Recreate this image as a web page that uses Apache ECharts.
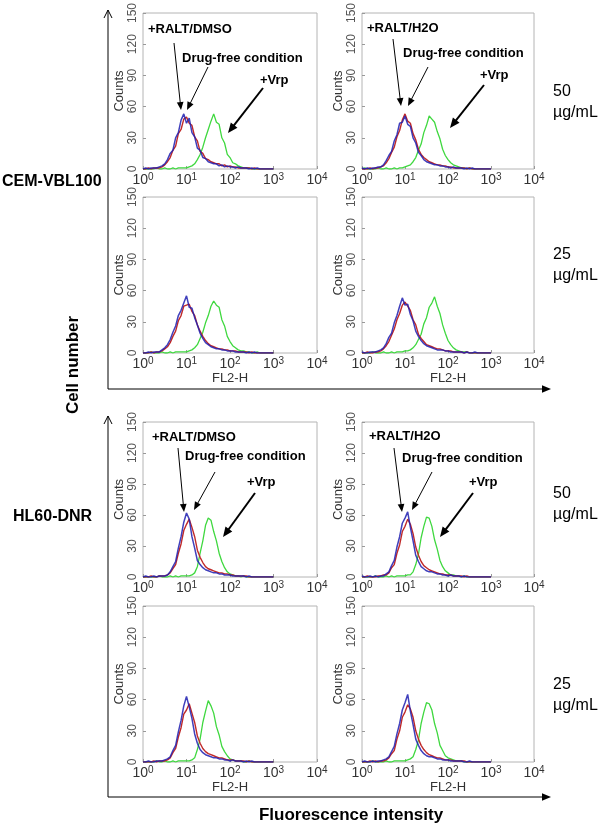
<!DOCTYPE html>
<html>
<head>
<meta charset="utf-8">
<script src="https://cdn.jsdelivr.net/npm/echarts@6/dist/echarts.min.js"></script>
<style>
html,body{margin:0;padding:0;background:#fff;}
#main{width:600px;height:825px;}
</style>
</head>
<body>
<div id="main"></div>
<script>
// FL2-H channel (1024 channels = 4 decades), counts per channel
var channels = [0,16,32,48,64,80,96,112,128,144,160,176,192,208,224,240,256,272,288,304,320,336,352,368,384,400,416,432,448,464,480,496,512,528,544,560,576,592,608,624,640,656,672,688,704,720,736,752,768];
var decades = ['0','1','2','3','4'];
var countTicks = [0,30,60,90,120,150];

// CEM-VBL100, 50 ug/mL, RALT/DMSO
var cem50DmsoRalt = [0,1,0,1,1,1,2,3,5,9, 15,18,30,35,47,53,44,49,35,31, 20,18,11,10,7,6,5,5,3,4, 2,3,2,2,1,2,1,1,1,0, 1,0,1,0,0,0,0,0,0];
var cem50DmsoFree = [0,0,1,0,1,1,1,2,4,7, 11,18,22,34,38,48,50,44,42,31, 27,17,15,10,9,7,6,5,5,3, 4,2,3,2,2,1,1,1,1,1, 0,1,0,0,0,0,0,0,0];
var cem50DmsoVrp  = [0,0,0,0,0,1,0,0,1,0, 0,1,0,1,1,1,1,2,3,5, 9,14,21,30,38,46,53,45,43,30, 25,14,11,6,5,3,2,1,1,1, 0,0,0,0,0,0,0,0,0];
// CEM-VBL100, 50 ug/mL, RALT/H2O
var cem50H2oRalt = [1,0,1,0,1,1,2,2,4,8, 13,17,27,33,44,45,51,43,41,30, 25,16,13,9,7,6,5,4,4,3, 3,2,2,1,2,1,1,1,0,1, 0,1,0,0,0,0,0,0,0];
var cem50H2oFree = [0,0,0,1,0,1,1,2,3,6, 10,16,21,31,37,47,53,46,44,34, 28,19,14,11,9,7,6,5,4,4, 3,3,2,2,1,1,1,1,1,0, 1,0,0,0,0,0,0,0,0];
var cem50H2oVrp  = [0,1,0,0,0,0,1,0,0,1, 0,0,1,0,1,1,2,3,4,7, 11,18,24,35,42,51,48,45,36,29, 19,13,9,6,4,3,2,1,1,0, 1,0,0,0,0,0,0,0,0];
// CEM-VBL100, 25 ug/mL, RALT/DMSO
var cem25DmsoRalt = [0,0,1,0,1,1,1,3,5,8, 13,20,26,36,41,48,55,44,43,34, 27,19,14,10,8,6,5,4,4,3, 3,2,2,2,1,1,1,1,0,1, 0,1,0,0,0,0,0,0,0];
var cem25DmsoFree = [0,0,0,1,0,1,1,2,4,6, 10,16,21,31,36,45,46,47,40,36, 27,21,16,12,9,7,6,5,4,4, 3,3,2,2,2,1,1,1,1,0, 1,0,0,0,0,0,0,0,0];
var cem25DmsoVrp  = [0,0,0,1,0,0,0,1,0,0, 1,0,1,1,1,1,1,2,3,5, 8,14,20,29,36,45,50,46,44,32, 26,16,11,7,5,3,2,2,1,1, 0,0,1,0,0,0,0,0,0];
// CEM-VBL100, 25 ug/mL, RALT/H2O
var cem25H2oRalt = [1,0,0,1,1,1,2,3,5,9, 15,19,29,36,45,53,46,47,37,31, 21,16,12,9,7,6,5,4,3,3, 3,2,2,1,1,1,1,1,0,1, 0,0,1,0,0,0,0,0,0];
var cem25H2oFree = [0,0,1,0,0,1,1,2,4,7, 11,17,23,32,38,46,49,45,41,32, 27,18,14,11,8,7,6,5,4,4, 3,2,2,2,1,1,1,1,0,1, 0,0,0,0,0,0,0,0,0];
var cem25H2oVrp  = [0,0,0,0,1,0,0,0,1,0, 0,1,0,1,1,1,2,2,3,5, 8,13,18,28,34,44,48,54,45,38, 27,19,12,8,5,3,2,1,1,1, 0,0,0,0,0,0,0,0,0];
// HL60-DNR, 50 ug/mL, RALT/DMSO
var hl50DmsoRalt = [0,1,0,0,1,0,1,1,1,2, 5,10,15,28,39,53,62,56,39,28, 16,12,9,7,6,5,4,4,3,3, 2,2,2,1,1,1,1,1,0,1, 0,0,0,0,0,0,0,0,0];
var hl50DmsoFree = [0,0,0,1,0,0,1,1,1,2, 4,8,12,23,32,45,51,56,48,39, 26,19,14,10,8,7,6,5,4,4, 3,3,2,2,1,1,1,1,1,0, 0,0,0,0,0,0,0,0,0];
var hl50DmsoVrp  = [0,0,0,0,0,0,1,0,0,0, 1,0,1,0,1,1,1,1,2,4, 10,23,35,50,57,55,44,35,23,15, 9,5,3,2,1,1,0,1,0,0, 0,0,0,0,0,0,0,0,0];
// HL60-DNR, 50 ug/mL, RALT/H2O
var hl50H2oRalt = [1,0,0,1,0,1,0,1,1,3, 5,11,16,29,39,52,57,63,48,35, 21,15,10,8,6,5,5,4,3,3, 2,2,1,2,1,1,1,0,1,0, 0,0,0,0,0,0,0,0,0];
var hl50H2oFree = [0,0,1,0,0,0,1,1,2,2, 4,9,12,23,31,44,49,56,51,42, 29,21,15,11,9,7,6,5,4,3, 3,2,2,2,1,1,1,1,0,1, 0,0,0,0,0,0,0,0,0];
var hl50H2oVrp  = [0,0,0,0,0,1,0,0,0,1, 0,1,0,1,1,1,1,2,2,5, 12,22,38,49,58,57,49,36,27,16, 10,6,4,2,2,1,1,0,1,0, 0,0,0,0,0,0,0,0,0];
// HL60-DNR, 25 ug/mL, RALT/DMSO
var hl25DmsoRalt = [0,0,1,0,0,1,1,1,2,3, 5,11,16,29,40,54,63,53,42,27, 18,12,9,7,6,5,4,4,3,3, 2,2,1,2,1,1,1,0,1,0, 1,0,0,0,0,0,0,0,0];
var hl25DmsoFree = [0,0,0,0,1,0,1,1,1,2, 4,9,13,24,33,46,50,56,47,38, 25,18,13,10,8,7,6,5,4,4, 3,2,2,2,1,1,1,1,0,1, 0,0,0,0,0,0,0,0,0];
var hl25DmsoVrp  = [0,0,0,0,0,1,0,0,1,0, 0,1,0,1,1,1,1,1,2,4, 12,22,38,49,59,54,47,34,26,15, 10,6,3,2,1,1,1,0,0,1, 0,0,0,0,0,0,0,0,0];
// HL60-DNR, 25 ug/mL, RALT/H2O
var hl25H2oRalt = [0,1,0,0,1,0,1,1,2,3, 5,10,15,27,37,50,57,65,49,36, 22,16,11,8,6,5,5,4,3,3, 2,2,2,1,1,1,1,1,0,0, 1,0,0,0,0,0,0,0,0];
var hl25H2oFree = [0,0,0,1,0,1,0,1,1,2, 4,8,11,22,30,43,48,55,51,43, 30,22,16,12,9,7,6,5,4,4, 3,2,2,2,1,1,1,1,1,0, 0,0,0,0,0,0,0,0,0];
var hl25H2oVrp  = [0,0,0,0,1,0,0,0,0,1, 0,0,1,1,1,1,1,2,3,5, 12,21,37,48,57,56,50,37,28,16, 11,6,4,3,2,1,1,1,0,0, 0,0,0,0,0,0,0,0,0];

var FONT = '"Liberation Sans", Arial, Helvetica, sans-serif';
var RED = '#c02a2a', BLUE = '#1f1fb0', GREEN = '#3fd83f';

var panels = [
    {box:[143,13,174,156], ralt:cem50DmsoRalt, free:cem50DmsoFree, vrp:cem50DmsoVrp, fl2:false},
    {box:[362,13,172,156], ralt:cem50H2oRalt, free:cem50H2oFree, vrp:cem50H2oVrp, fl2:false},
    {box:[143,197,174,156], ralt:cem25DmsoRalt, free:cem25DmsoFree, vrp:cem25DmsoVrp, fl2:true},
    {box:[362,197,172,156], ralt:cem25H2oRalt, free:cem25H2oFree, vrp:cem25H2oVrp, fl2:true},
    {box:[143,422,174,155], ralt:hl50DmsoRalt, free:hl50DmsoFree, vrp:hl50DmsoVrp, fl2:false},
    {box:[362,422,172,155], ralt:hl50H2oRalt, free:hl50H2oFree, vrp:hl50H2oVrp, fl2:false},
    {box:[143,606,174,156], ralt:hl25DmsoRalt, free:hl25DmsoFree, vrp:hl25DmsoVrp, fl2:true},
    {box:[362,606,172,156], ralt:hl25H2oRalt, free:hl25H2oFree, vrp:hl25H2oVrp, fl2:true}
];

function pairs(arr){
    var out = [];
    for(var i=0;i<channels.length;i++){
        out.push([channels[i], arr[i]]);
    }
    return out;
}

function arrow(x1,y1,x2,y2,w,head){
    var dx = x2-x1, dy = y2-y1, len = Math.sqrt(dx*dx+dy*dy);
    var ux = dx/len, uy = dy/len;
    var bx = x2-ux*head, by = y2-uy*head, hw = head*0.42;
    return [
        {type:'line', silent:true, shape:{x1:x1,y1:y1,x2:bx+ux,y2:by+uy}, style:{stroke:'#000',lineWidth:w}},
        {type:'polygon', silent:true, shape:{points:[[x2,y2],[bx-uy*hw,by+ux*hw],[bx+uy*hw,by-ux*hw]]}, style:{fill:'#000'}}
    ];
}

function label(x,y,txt,font,align,rot){
    return {type:'text', silent:true, x:x, y:y, rotation:rot||0,
        style:{text:txt, font:font, fill:'#000', align:align||'left', verticalAlign:'middle'}};
}

var grids = [], xAxes = [], yAxes = [], series = [];
for(var k=0;k<panels.length;k++){
    var p = panels[k];
    grids.push({left:p.box[0], top:p.box[1], width:p.box[2], height:p.box[3],
        show:true, borderColor:'#b4b4b4', borderWidth:1});
    xAxes.push({
        gridIndex:k, type:'value', min:0, max:1024, interval:256,
        name: p.fl2 ? 'FL2-H' : '', nameLocation:'middle', nameGap:19,
        nameTextStyle:{fontFamily:FONT, fontSize:13, color:'#333'},
        axisLine:{show:false}, splitLine:{show:false},
        axisTick:{show:true, inside:true, length:3, lineStyle:{color:'#999'}},
        axisLabel:{margin:3, formatter:function(v){ return '{b|10}{s|' + decades[Math.round(v/256)] + '}'; },
            rich:{b:{fontFamily:FONT, fontSize:14, color:'#333'},
                  s:{fontFamily:FONT, fontSize:10, color:'#333', verticalAlign:'top', padding:[0,0,7,0]}}}
    });
    yAxes.push({
        gridIndex:k, type:'value', min:countTicks[0], max:countTicks[countTicks.length-1], interval:30,
        name:'Counts', nameLocation:'middle', nameGap:17, nameRotate:90,
        nameTextStyle:{fontFamily:FONT, fontSize:13, color:'#333'},
        axisLine:{show:false}, splitLine:{show:false},
        axisTick:{show:true, inside:true, length:3, lineStyle:{color:'#999'}},
        axisLabel:{rotate:90, margin:4, fontFamily:FONT, fontSize:12, color:'#555'}
    });
    var lines = [[p.vrp, GREEN, 1, 1.3], [p.free, RED, 1, 1.4], [p.ralt, BLUE, 0.85, 1.5]];
    for(var j=0;j<lines.length;j++){
        series.push({type:'line', xAxisIndex:k, yAxisIndex:k, data:pairs(lines[j][0]),
            showSymbol:false, silent:true,
            lineStyle:{color:lines[j][1], width:lines[j][3], opacity:lines[j][2]}});
    }
}

var g = [];
// outer axes frames
var frames = [[10,389],[416,797]];
for(var f=0;f<frames.length;f++){
    var t = frames[f][0], b = frames[f][1];
    g.push({type:'line', silent:true, shape:{x1:108,y1:t,x2:108,y2:b}, style:{stroke:'#000',lineWidth:1}});
    g.push({type:'polyline', silent:true, shape:{points:[[104,t+8],[108,t],[112,t+8]]}, style:{stroke:'#000',lineWidth:1,fill:null}});
    g = g.concat(arrow(108,b,551,b,1,9));
}
g.push(label(2,182,'CEM-VBL100','bold 16px '+FONT));
g.push(label(13,517,'HL60-DNR','bold 16px '+FONT));
g.push(label(73,365,'Cell number','bold 17px '+FONT,'center',Math.PI/2));
g.push(label(351,815,'Fluorescence intensity','bold 17px '+FONT,'center'));

var doses = [['50',92],['25',255],['50',494],['25',685]];
for(var d=0;d<doses.length;d++){
    g.push(label(553,doses[d][1],doses[d][0],'16px '+FONT));
    g.push(label(553,doses[d][1]+21,'µg/mL','16px '+FONT));
}

// annotations on the 50 ug/mL rows
var notes = [
    {ralt:['+RALT/DMSO',148,29], free:[182,58], vrp:[260,80], a1:[174,43,181,110], a2:[208,67,187,110], a3:[263,88,228,133]},
    {ralt:['+RALT/H2O',367,28], free:[403,53], vrp:[480,75], a1:[393,39,401,106], a2:[428,67,408,106], a3:[484,85,450,128]},
    {ralt:['+RALT/DMSO',152,437], free:[185,456], vrp:[247,482], a1:[178,448,184,512], a2:[215,472,194,510], a3:[255,493,223,537]},
    {ralt:['+RALT/H2O',369,436], free:[402,458], vrp:[469,482], a1:[394,448,402,512], a2:[432,472,412,510], a3:[473,493,440,537]}
];
for(var n=0;n<notes.length;n++){
    var o = notes[n];
    g.push(label(o.ralt[1],o.ralt[2],o.ralt[0],'bold 13px '+FONT));
    g.push(label(o.free[0],o.free[1],'Drug-free condition','bold 13px '+FONT));
    g.push(label(o.vrp[0],o.vrp[1],'+Vrp','bold 13px '+FONT));
    g = g.concat(arrow(o.a1[0],o.a1[1],o.a1[2],o.a1[3],1,8));
    g = g.concat(arrow(o.a2[0],o.a2[1],o.a2[2],o.a2[3],1,8));
    g = g.concat(arrow(o.a3[0],o.a3[1],o.a3[2],o.a3[3],2,10));
}

var chart = echarts.init(document.getElementById('main'));
chart.setOption({
    animation:false,
    backgroundColor:'#fff',
    grid:grids, xAxis:xAxes, yAxis:yAxes, series:series,
    graphic:g
});
</script>
</body>
</html>
